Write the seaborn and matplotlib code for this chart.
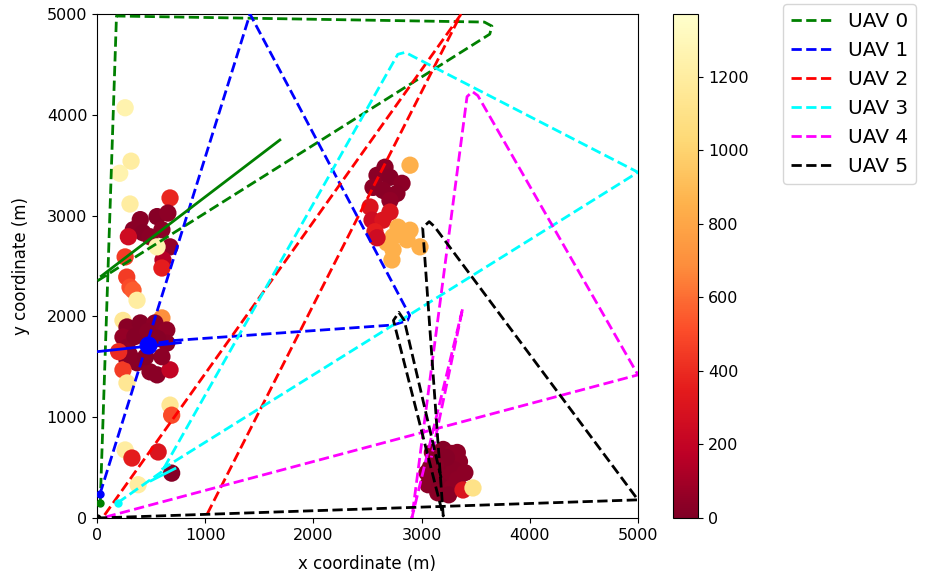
import numpy as np
import pandas as pd
import matplotlib
matplotlib.use("Agg")
import matplotlib.pyplot as plt
import seaborn as sns

# ---- demand points (x, y, value) ----
pts_x = [260, 315, 210, 305, 675, 400, 555, 655, 335, 425, 490, 290, 600, 675, 610, 600, 555,
         260, 275, 305, 333, 370,
         240, 600, 277, 400, 535, 645, 240, 645, 277, 277, 370, 490, 555, 675, 240, 277,
         300, 600, 350, 470, 560, 450, 200,
         675, 690, 260, 323, 565, 690, 380,
         2662, 2893, 2588, 2708, 2819, 2551, 2643, 2772, 2708, 2523, 2708, 2542, 2643, 2569,
         2782, 2893, 2736, 2865, 2680, 2985, 2736, 2588, 2726,
         3100, 3200, 3280, 3150, 3250, 3350, 3080, 3180, 3300, 3400, 3120, 3220, 3330, 3060,
         3170, 3280, 3150, 3250, 3050, 3330, 3230, 3130, 3383, 3475]
pts_y = [4070, 3540, 3420, 3115, 3175, 2960, 2990, 3025, 2860, 2830, 2790, 2790, 2860, 2690, 2560, 2480, 2690,
         2590, 2390, 2290, 2260, 2160,
         1960, 1985, 1895, 1935, 1935, 1865, 1795, 1735, 1695, 1570, 1540, 1450, 1420, 1470, 1470, 1340,
         1620, 1600, 1800, 1850, 1780, 1600, 1650,
         1120, 1020, 675, 595, 655, 445, 330,
         3480, 3500, 3400, 3380, 3320, 3280, 3250, 3220, 3150, 3085, 3035, 2955, 2955, 2840,
         2885, 2855, 2790, 2760, 2730, 2690, 2660, 2780, 2560,
         650, 680, 640, 580, 560, 560, 500, 480, 480, 450, 400, 400, 380, 330,
         320, 300, 250, 230, 450, 650, 600, 520, 278, 298]
pts_v = [1250, 1200, 1250, 1200, 380, 30, 20, 40, 30, 20, 30, 250, 40, 60, 150, 350, 1250,
         450, 450, 500, 550, 1200,
         1150, 700, 30, 20, 40, 50, 60, 30, 40, 20, 30, 40, 30, 200, 450, 1150,
         30, 40, 20, 30, 20, 20, 400,
         1150, 500, 1200, 350, 300, 20, 1200,
         30, 850, 30, 20, 40, 40, 30, 30, 50, 300, 300, 250, 300, 350,
         850, 850, 850, 850, 850, 850, 850, 250, 850,
         30, 20, 40, 30, 20, 40, 30, 20, 30, 40, 20, 30, 40, 30,
         20, 40, 30, 20, 30, 40, 20, 30, 300, 1100]
v_max = 1370

# ---- UAV paths ----
uav0_x = [30, 180, 3580, 3650, 3630, 0]
uav0_y = [150, 4980, 4920, 4880, 4800, 2350]
uav0_hx = [40, 1690]
uav0_hy = [2400, 3750]

uav1_x = [28, 1414, 2890, 2870, 2740, 700, 470]
uav1_y = [240, 5000, 2010, 1960, 1915, 1760, 1720]
uav1_hx = [0, 770]
uav1_hy = [1650, 1740]

uav2_x = [70, 3360, 1000]
uav2_y = [30, 4990, 0]

uav3_x = [190, 600, 2780, 2850, 2920, 5000, 580]
uav3_y = [150, 460, 4600, 4620, 4580, 3430, 470]
uav3_hx = [500, 720]
uav3_hy = [370, 490]

uav4_x = [80, 5000, 3520, 3470, 3420, 2910, 3380, 3090]
uav4_y = [10, 1420, 4190, 4230, 4180, 0, 2080, 600]

uav5_x = [0, 5000, 3120, 3070, 3010, 3200, 2740, 2790, 2840, 3180]
uav5_y = [0, 180, 2890, 2940, 2880, 20, 1960, 2040, 1960, 400]

labels = ["UAV 0", "UAV 1", "UAV 2", "UAV 3", "UAV 4", "UAV 5"]
colors = ["green", "blue", "red", "cyan", "magenta", "black"]

fig = plt.figure(figsize=(9.3, 5.76), dpi=100)
ax = fig.add_axes([0.1043, 0.1007, 0.5817, 0.875])
cax = fig.add_axes([0.7237, 0.1007, 0.0269, 0.875])

pts = pd.DataFrame({"x": pts_x, "y": pts_y, "v": pts_v})
cmap = plt.get_cmap("YlOrRd_r")
norm = matplotlib.colors.Normalize(vmin=0, vmax=v_max)
sns.scatterplot(data=pts, x="x", y="y", hue="v", palette=cmap, hue_norm=norm,
                s=155, linewidth=0, legend=False, ax=ax, zorder=2)

paths = [(uav0_x, uav0_y), (uav1_x, uav1_y), (uav2_x, uav2_y),
         (uav3_x, uav3_y), (uav4_x, uav4_y), (uav5_x, uav5_y)]
for (px, py), lab, col in zip(paths, labels, colors):
    sns.lineplot(x=px, y=py, sort=False, estimator=None, color=col, linestyle="--",
                 linewidth=2.0, label=lab, ax=ax, zorder=3)

hovers = [(uav0_hx, uav0_hy, "green"), (uav1_hx, uav1_hy, "blue"), (uav3_hx, uav3_hy, "cyan")]
for hx, hy, col in hovers:
    sns.lineplot(x=hx, y=hy, sort=False, estimator=None, color=col, linestyle="-",
                 linewidth=2.0, ax=ax, zorder=3, legend=False)

# start markers
start_x = [uav0_x[0], uav1_x[0], uav3_x[0], uav5_x[0]]
start_y = [uav0_y[0], uav1_y[0], uav3_y[0], uav5_y[0]]
start_c = ["green", "blue", "cyan", "black"]
for sx, sy, sc in zip(start_x, start_y, start_c):
    ax.plot([sx], [sy], "o", color=sc, markersize=5, zorder=4)
ax.plot([470], [1720], "o", color="blue", markersize=12, zorder=4)

ax.set_xlim(0, 5000)
ax.set_ylim(0, 5000)
ax.set_xticks([0, 1000, 2000, 3000, 4000, 5000])
ax.set_yticks([0, 1000, 2000, 3000, 4000, 5000])
ax.tick_params(labelsize=11.5)
ax.set_xlabel("x coordinate (m)", fontsize=12, labelpad=9)
ax.set_ylabel("y coordinate (m)", fontsize=12, labelpad=12)

sm = matplotlib.cm.ScalarMappable(norm=norm, cmap=cmap)
cb = fig.colorbar(sm, cax=cax)
cb.set_ticks([0, 200, 400, 600, 800, 1000, 1200])
cb.ax.tick_params(labelsize=11.5)

ax.legend(loc="upper left", bbox_to_anchor=(0.842, 0.993), bbox_transform=fig.transFigure,
          fontsize=14.5, handlelength=2.0, borderaxespad=0)

fig.savefig("out.png", dpi=100)
